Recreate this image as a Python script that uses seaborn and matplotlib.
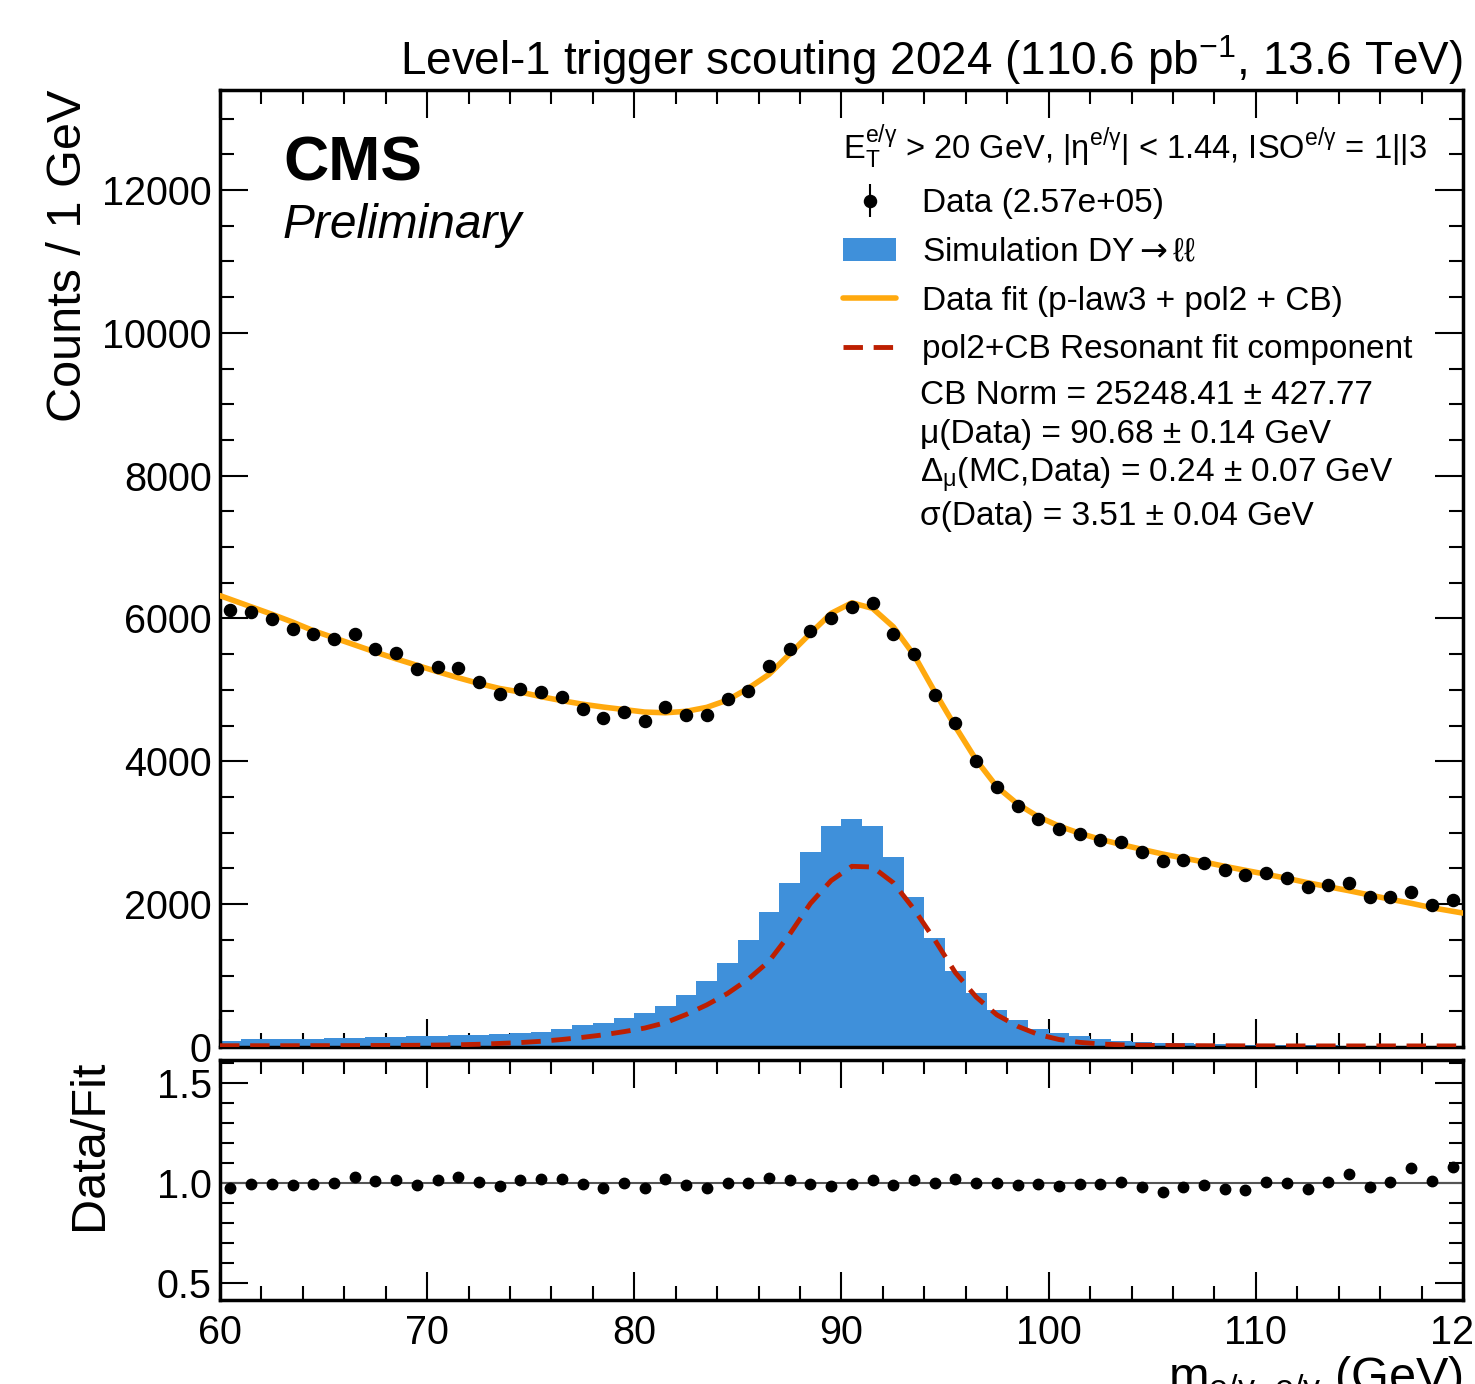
import numpy as np
import pandas as pd
import matplotlib
matplotlib.use("Agg")
import matplotlib.pyplot as plt
import seaborn as sns
from matplotlib.patches import Patch
from matplotlib.lines import Line2D
from matplotlib.ticker import MultipleLocator, FormatStrFormatter

# ---------------- data ----------------
bin_edges = np.arange(60, 121, 1)
bin_centers = bin_edges[:-1] + 0.5

data_counts = [6118, 6094, 5988, 5848, 5782, 5712, 5786, 5576, 5516, 5288,
               5316, 5306, 5114, 4938, 5012, 4974, 4904, 4732, 4610, 4686,
               4564, 4764, 4644, 4644, 4872, 4988, 5338, 5572, 5820, 6010,
               6164, 6212, 5782, 5502, 4928, 4532, 4004, 3644, 3370, 3196,
               3048, 2982, 2898, 2866, 2726, 2600, 2618, 2580, 2478, 2404,
               2440, 2370, 2244, 2268, 2292, 2096, 2096, 2174, 1988, 2062]

sim_counts = [89, 108, 112, 108, 112, 121, 126, 135, 135, 154,
              154, 168, 168, 177, 196, 215, 247, 308, 336, 401,
              481, 579, 728, 924, 1176, 1498, 1894, 2296, 2725, 3090,
              3188, 3090, 2665, 2104, 1530, 1064, 760, 518, 378, 247,
              191, 154, 112, 89, 70, 61, 51, 42, 37, 33,
              28, 26, 24, 22, 20, 19, 18, 17, 16, 15]

fit_mass = np.concatenate([[60.0], bin_centers, [120.0]])
fit_total = [6320,
             6268, 6164, 6060, 5950, 5830, 5730, 5630, 5530, 5435, 5345,
             5255, 5170, 5090, 5020, 4970, 4905, 4850, 4800, 4760, 4725,
             4690, 4680, 4700, 4756, 4858, 5022, 5218, 5502, 5792, 6072,
             6220, 6142, 5884, 5488, 4974, 4484, 4020, 3644, 3402, 3224,
             3094, 2992, 2908, 2835, 2768, 2702, 2646, 2590, 2530, 2474,
             2418, 2362, 2300, 2244, 2188, 2128, 2068, 2012, 1950, 1900,
             1875]
fit_resonant = [18,
                18, 18, 18, 18, 19, 19, 20, 21, 22, 24,
                27, 31, 38, 50, 62, 80, 105, 135, 170, 215,
                265, 340, 455, 590, 750, 950, 1200, 1580, 2010, 2330,
                2530, 2520, 2300, 1930, 1500, 1040, 700, 450, 290, 175,
                105, 65, 42, 30, 24, 21, 19, 18, 17, 16,
                16, 15, 15, 15, 15, 15, 15, 15, 15, 15,
                15]

ratio_values = [0.977, 0.993, 0.993, 0.990, 0.993, 0.998, 1.030, 1.010, 1.015, 0.990,
                1.013, 1.028, 1.005, 0.985, 1.015, 1.020, 1.020, 0.993, 0.977, 0.998,
                0.977, 1.018, 0.990, 0.977, 1.002, 0.998, 1.027, 1.017, 0.997, 0.985,
                0.993, 1.013, 0.988, 1.013, 1.000, 1.020, 1.000, 0.998, 0.992, 0.997,
                0.987, 0.997, 0.995, 1.005, 0.980, 0.953, 0.980, 0.992, 0.972, 0.967,
                1.005, 1.000, 0.968, 1.007, 1.043, 0.980, 1.007, 1.073, 1.010, 1.080]

fit_text_lines = ["CB Norm = 25248.41 ± 427.77",
                  "μ(Data) = 90.68 ± 0.14 GeV",
                  r"Δ$_{\mathrm{\mu}}$(MC,Data) = 0.24 ± 0.07 GeV",
                  "σ(Data) = 3.51 ± 0.04 GeV"]

BLUE = "#3f90da"
ORANGE = "#ffa90e"
RED = "#bd1f01"

# ---------------- style ----------------
sns.set_theme(style="ticks")
plt.rcParams["font.family"] = ["Liberation Sans", "DejaVu Sans"]
plt.rcParams["mathtext.fontset"] = "custom"
plt.rcParams["mathtext.rm"] = "Liberation Sans"
plt.rcParams["mathtext.it"] = "Liberation Sans:italic"
plt.rcParams["mathtext.bf"] = "Liberation Sans:bold"
plt.rcParams["mathtext.sf"] = "DejaVu Sans"
plt.rcParams["axes.unicode_minus"] = True
for key in ["text.color", "axes.labelcolor", "xtick.color", "ytick.color",
            "axes.edgecolor"]:
    plt.rcParams[key] = "black"

W, H = 1475, 1384
fig = plt.figure(figsize=(W / 100, H / 100), dpi=100)
ax = fig.add_axes([220 / W, 1 - 1047 / H, 1243 / W, 957 / H])
rax = fig.add_axes([220 / W, 1 - 1300 / H, 1243 / W, 240 / H])

sim_df = pd.DataFrame({"mass": bin_centers, "counts": sim_counts})
fit_df = pd.DataFrame({"mass": fit_mass, "total": fit_total, "resonant": fit_resonant})

DASH = (0, (4, 2.2))

# simulation histogram
sns.histplot(data=sim_df, x="mass", weights="counts", binwidth=1, binrange=(60, 120),
             element="step", fill=True, color=BLUE, alpha=1.0, linewidth=0, ax=ax)
# fits
sns.lineplot(data=fit_df, x="mass", y="total", color=ORANGE, linewidth=4.0, ax=ax, zorder=3)
sns.lineplot(data=fit_df, x="mass", y="resonant", color=RED, linewidth=3.5,
             linestyle=DASH, ax=ax, zorder=3)
# data
data_arr = np.array(data_counts, dtype=float)
ax.errorbar(bin_centers, data_arr, yerr=np.sqrt(data_arr), fmt="o", color="black",
            markersize=8.7, elinewidth=1.5, capsize=0, zorder=5)

ax.set_xlim(60, 120)
ax.set_ylim(0, 13400)
ax.set_xlabel("")
ax.set_ylabel("Counts / 1 GeV", fontsize=35, loc="top")
ax.yaxis.set_label_coords(-0.104, 1.0)

# ratio
fit_centers = np.array(fit_total[1:-1], dtype=float)
rax.axhline(1.0, color="#555555", linewidth=1.5, zorder=1)
rax.errorbar(bin_centers, ratio_values, yerr=np.sqrt(data_arr) / fit_centers, fmt="o",
             color="black", markersize=7.5, elinewidth=1.2, capsize=0, zorder=5)
rax.set_xlim(60, 120)
rax.set_ylim(0.415, 1.615)
rax.set_ylabel("Data/Fit", fontsize=35, loc="top")
rax.yaxis.set_label_coords(-0.087, 1.0)
rax.set_xlabel(r"$\mathrm{m_{e/\gamma,\,e/\gamma}}$ (GeV)", fontsize=35, loc="right")
rax.xaxis.set_label_coords(1.0, -0.225)

for a in (ax, rax):
    a.xaxis.set_major_locator(MultipleLocator(10))
    a.xaxis.set_minor_locator(MultipleLocator(2))
    a.tick_params(which="both", direction="in", top=True, right=True,
                  width=1.5, color="black", labelcolor="black", labelsize=28.5)
    a.tick_params(which="major", length=20)
    a.tick_params(which="minor", length=10)
    a.tick_params(axis="y", pad=6)
    a.tick_params(axis="x", pad=10)
    for s in a.spines.values():
        s.set_linewidth(2.5)
        s.set_color("black")

ax.yaxis.set_major_locator(MultipleLocator(2000))
ax.yaxis.set_minor_locator(MultipleLocator(500))
ax.tick_params(labelbottom=False)
rax.yaxis.set_major_locator(MultipleLocator(0.5))
rax.yaxis.set_minor_locator(MultipleLocator(0.1))
rax.yaxis.set_major_formatter(FormatStrFormatter("%.1f"))

# labels
ax.text(1.0, 1.003, r"Level-1 trigger scouting 2024 (110.6 pb$^{-1}$, 13.6 TeV)",
        transform=ax.transAxes, ha="right", va="bottom", fontsize=33)
ax.text(0.0507, 0.953, "CMS", transform=ax.transAxes, ha="left", va="top",
        fontsize=45, fontweight="bold")
ax.text(0.0507, 0.882, "Preliminary", transform=ax.transAxes, ha="left", va="top",
        fontsize=34.5, fontstyle="italic")

# legend
h_data = ax.errorbar([], [], yerr=[], fmt="o", color="black", markersize=8.7,
                     elinewidth=1.5, capsize=0)
h_sim = Patch(facecolor=BLUE, edgecolor="none")
h_fit = Line2D([], [], color=ORANGE, linewidth=4.0)
h_res = Line2D([], [], color=RED, linewidth=3.5, linestyle=DASH)
leg = ax.legend([h_data, h_sim, h_fit, h_res],
                ["Data (2.57e+05)", r"Simulation DY$\mathsf{\rightarrow}$ℓℓ",
                 "Data fit (p-law3 + pol2 + CB)", "pol2+CB Resonant fit component"],
                title=r"$\mathrm{E_{T}^{e/\gamma}}$ > 20 GeV, $|\mathrm{\eta^{e/\gamma}}|$ < 1.44, ISO$^{\mathrm{e/\gamma}}$ = 1||3",
                loc="upper left", bbox_to_anchor=(0.5012, 0.966), frameon=False,
                fontsize=24, title_fontsize=23.5, borderpad=0, borderaxespad=0,
                handlelength=1.6, handletextpad=0.76, labelspacing=0.53,
                alignment="left")

text_x = (920 - 220) / 1243
for line, base in zip(fit_text_lines, [404, 443, 483, 525]):
    ax.text(text_x, (1047 - base) / 957, line, transform=ax.transAxes,
            ha="left", va="baseline", fontsize=24)

fig.savefig("out.png", dpi=100)
